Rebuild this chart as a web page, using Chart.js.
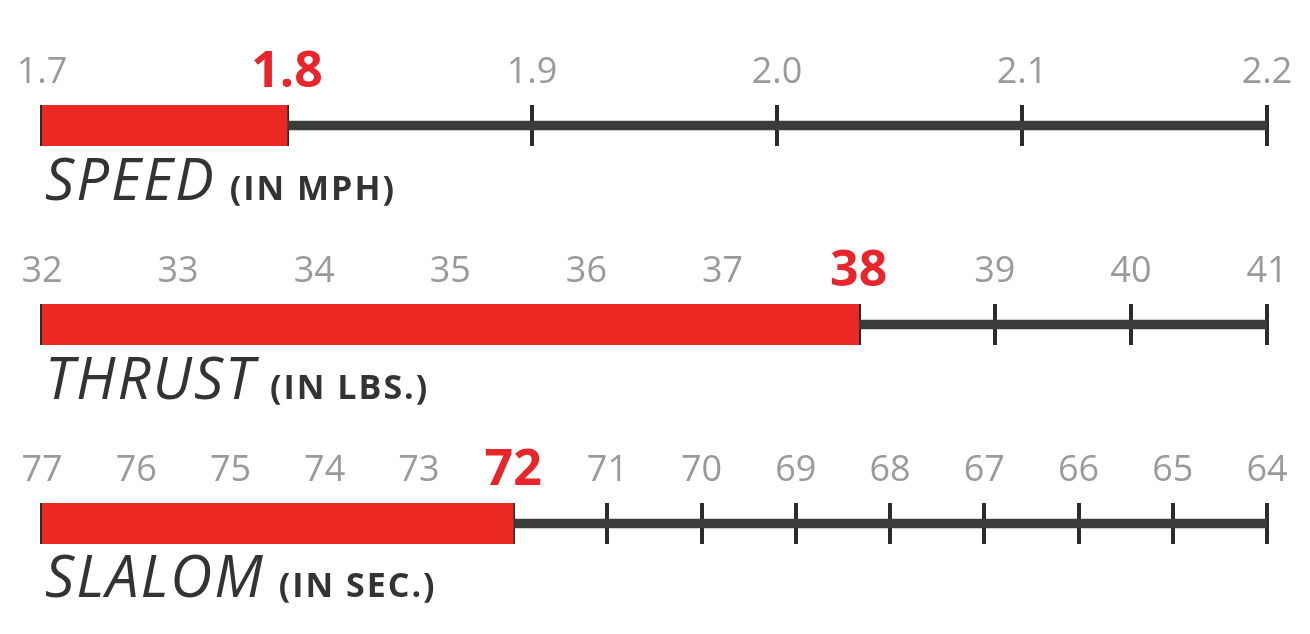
<!DOCTYPE html>
<html>
<head>
<meta charset="utf-8">
<script src="https://cdn.jsdelivr.net/npm/chart.js@4.4.1/dist/chart.umd.min.js"></script>
<style>
	body { margin: 0; background: #fff; width: 1310px; height: 634px; overflow: hidden; position: relative; }
	canvas { position: absolute; left: 0; }
	.name { position: absolute; left: 45px; display: flex; align-items: baseline; line-height: 58px; color: #333; white-space: nowrap; }
	.name .big { font: italic 400 58px 'Open Sans'; letter-spacing: 2px; }
	.name .unit { font: 700 34px 'Open Sans'; letter-spacing: 2px; margin-left: 14px; }
</style>
</head>
<body>
<canvas id="c0" width="1310" height="99" style="top:47px"></canvas>
<div class="name" id="n0" style="top:138px"></div>
<canvas id="c1" width="1310" height="99" style="top:246px"></canvas>
<div class="name" id="n1" style="top:337px"></div>
<canvas id="c2" width="1310" height="99" style="top:445px"></canvas>
<div class="name" id="n2" style="top:535px"></div>
<script>
// one row per rating
const metrics = ['SPEED', 'THRUST', 'SLALOM'];
const units = ['(IN MPH)', '(IN LBS.)', '(IN SEC.)'];
const scaleStart = [1.7, 32, 77];
const scaleEnd = [2.2, 41, 64];
const ratings = [1.8, 38, 72];

// tick labels
const speedTicks = [1.7, 1.8, 1.9, 2.0, 2.1, 2.2];
const thrustTicks = [32, 33, 34, 35, 36, 37, 38, 39, 40, 41];
const slalomTicks = [77, 76, 75, 74, 73, 72, 71, 70, 69, 68, 67, 66, 65, 64];
const tickLists = [speedTicks, thrustTicks, slalomTicks];
const decimals = [1, 0, 0];

const red = '#eb2823';
const dark = '#2b2b2b';

function drawRow(i) {
	const start = scaleStart[i];
	const end = scaleEnd[i];
	const rating = ratings[i];
	const isRating = ctx => !!ctx.tick && Math.abs(ctx.tick.value - rating) < 1e-6;

	const name = document.getElementById('n' + i);
	name.innerHTML = '<span class="big">' + metrics[i] + '</span><span class="unit">' + units[i] + '</span>';

	new Chart(document.getElementById('c' + i), {
		type: 'bar',
		data: {
			labels: [metrics[i]],
			datasets: [
				{
					// the rating bar
					data: [[start, rating]],
					backgroundColor: red,
					barPercentage: 1,
					categoryPercentage: 1,
					grouped: false,
					order: 0
				},
				{
					// the scale line behind it
					data: [[start, end]],
					backgroundColor: '#3c3c3c',
					barThickness: 9,
					grouped: false,
					order: 1
				}
			]
		},
		options: {
			indexAxis: 'y',
			responsive: false,
			animation: false,
			devicePixelRatio: 1,
			layout: { padding: { left: 42, right: 43, top: 0, bottom: 0 } },
			plugins: { legend: { display: false }, tooltip: { enabled: false } },
			scales: {
				x: {
					position: 'top',
					min: Math.min(start, end),
					max: Math.max(start, end),
					reverse: start > end,
					afterBuildTicks: scale => {
						scale.ticks = tickLists[i].map(v => ({ value: v }));
					},
					afterFit: scale => {
						// keep the bar the same height in every row
						scale.height = 58;
					},
					border: { display: false },
					grid: { color: dark, lineWidth: 4, drawTicks: false },
					ticks: {
						padding: 7,
						maxRotation: 0,
						autoSkip: false,
						callback: v => Number(v).toFixed(decimals[i]),
						color: ctx => (isRating(ctx) ? '#e8252b' : '#9a9a9a'),
						font: ctx =>
							isRating(ctx)
								? { family: 'Open Sans', size: 50, weight: 'bold', lineHeight: 1.02 }
								: { family: 'Open Sans', size: 36, lineHeight: 1.42 }
					}
				},
				y: { display: false }
			}
		}
	});
}

for (let i = 0; i < metrics.length; i++) {
	drawRow(i);
}
</script>
</body>
</html>
